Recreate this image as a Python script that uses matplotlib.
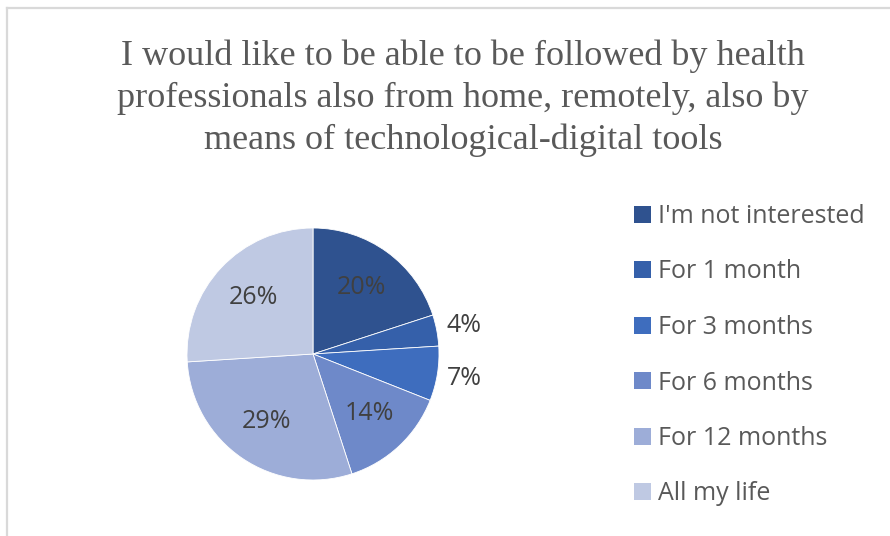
import numpy as np
import matplotlib
matplotlib.use("Agg")
import matplotlib.pyplot as plt
from matplotlib.patches import Patch
from matplotlib.lines import Line2D

categories = ["I'm not interested", "For 1 month", "For 3 months",
              "For 6 months", "For 12 months", "All my life"]
shares = [20, 4, 7, 14, 29, 26]
value_labels = ["20%", "4%", "7%", "14%", "29%", "26%"]
colors = ["#2F528F", "#3560AA", "#3E6DBE", "#6E89C9", "#9DADD8", "#BFC9E3"]
title = ("I would like to be able to be followed by health\n"
         "professionals also from home, remotely, also by\n"
         "means of technological-digital tools")

W, H = 890, 536
fig = plt.figure(figsize=(W / 100, H / 100), dpi=100)
fig.patch.set_facecolor("white")

# chart-area frame (top and left edges visible)
fig.add_artist(Line2D([7 / W, 7 / W], [0, 1 - 8 / H], transform=fig.transFigure,
                      color="#D9D9D9", lw=1.6))
fig.add_artist(Line2D([7 / W, 1], [1 - 8 / H, 1 - 8 / H], transform=fig.transFigure,
                      color="#D9D9D9", lw=1.6))

fig.text(463 / W, 1 - 98 / H, title, ha="center", va="center",
         family="Liberation Serif", fontsize=26, color="#595959",
         linespacing=1.34)

cx, cy, r = 313, 354, 126
ax = fig.add_axes([(cx - r) / W, (H - cy - r) / H, 2 * r / W, 2 * r / H])
wedges, _ = ax.pie(shares, colors=colors, startangle=90, counterclock=False,
                   wedgeprops=dict(edgecolor="white", linewidth=0.6))
ax.set_xlim(-1, 1)
ax.set_ylim(-1, 1)
ax.set_aspect("equal")
ax.axis("off")

for w, lab, v in zip(wedges, value_labels, shares):
    ang = np.deg2rad((w.theta1 + w.theta2) / 2)
    d = 1.22 if v < 10 else 0.65
    ax.text(d * np.cos(ang), d * np.sin(ang), lab, ha="center", va="center",
            family="Open Sans", fontsize=18, color="#404040", clip_on=False)

handles = [Patch(facecolor=c, edgecolor="none") for c in colors]
leg = fig.legend(handles, categories, loc="upper left",
                 bbox_to_anchor=(634 / W, 1 - 204 / H), frameon=False,
                 prop=dict(family="Open Sans", size=18),
                 borderpad=0, borderaxespad=0,
                 handlelength=0.68, handleheight=0.68, handletextpad=0.3,
                 labelspacing=1.22)
for t in leg.get_texts():
    t.set_color("#595959")

fig.savefig("out.png", dpi=100, facecolor="white")
